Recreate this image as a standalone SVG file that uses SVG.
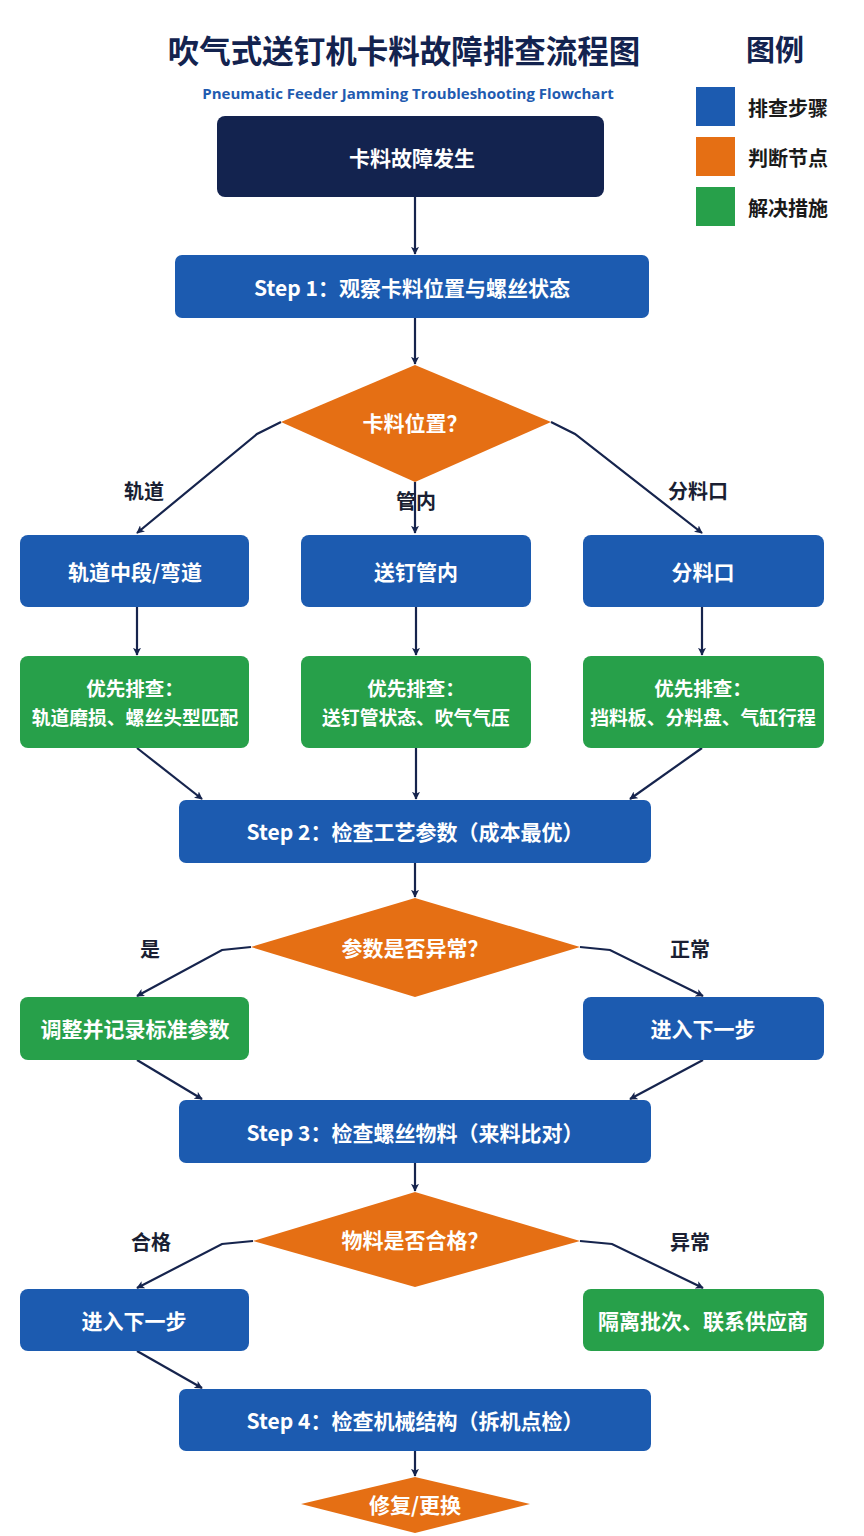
<svg xmlns="http://www.w3.org/2000/svg" width="864" height="1536" viewBox="0 0 864 1536">
<defs>
<marker id="arr" viewBox="0 0 10 10" refX="9" refY="5" markerWidth="8" markerHeight="8" orient="auto-start-reverse" markerUnits="userSpaceOnUse">
<path d="M0,0 L10,5 L0,10 L2.5,5 Z" fill="#16244d"/>
</marker>
<style>
text{font-family:"Noto Sans CJK SC","Noto Sans",sans-serif;font-weight:700;text-anchor:middle;dominant-baseline:central}
.t{fill:#ffffff;font-size:21px}
.blue{fill:#1c5bb0}
.org{fill:#e56f14}
.grn{fill:#27a04a}
.navy{fill:#13234f}
.lbl{fill:#1a1f33;font-size:20px}
.c{fill:none;stroke:#16244d;stroke-width:2.2;marker-end:url(#arr)}
</style>
</defs>
<rect width="864" height="1536" fill="#ffffff"/>
<g id="title">
<text x="404" y="49" style="font-size:31.5px;fill:#13234f">吹气式送钉机卡料故障排查流程图</text>
<text x="408" y="93" style="font-size:15px;fill:#1f5bb0;font-family:'Open Sans','Noto Sans',sans-serif">Pneumatic Feeder Jamming Troubleshooting Flowchart</text>
</g>
<g id="legend">
<text x="775" y="48" style="font-size:29px;fill:#13234f">图例</text>
<rect x="696" y="87" width="39" height="39" class="blue"/>
<rect x="696" y="137" width="39" height="39" class="org"/>
<rect x="696" y="187" width="39" height="39" class="grn"/>
<text x="748" y="107" style="font-size:20px;fill:#1a1a1a;text-anchor:start">排查步骤</text>
<text x="748" y="157" style="font-size:20px;fill:#1a1a1a;text-anchor:start">判断节点</text>
<text x="748" y="207" style="font-size:20px;fill:#1a1a1a;text-anchor:start">解决措施</text>
</g>
<g id="connectors">
<path class="c" d="M415,197 L415,254"/>
<path class="c" d="M415,318 L415,364"/>
<path class="c" d="M281,422 L257,434 L137,533"/>
<path class="c" d="M415,482 L415,533"/>
<path class="c" d="M551,422 L575,434 L702,533"/>
<path class="c" d="M137,607 L137,655"/>
<path class="c" d="M416,607 L416,655"/>
<path class="c" d="M702,607 L702,655"/>
<path class="c" d="M137,748 L202,799"/>
<path class="c" d="M416,748 L416,799"/>
<path class="c" d="M702,748 L630,799"/>
<path class="c" d="M415,863 L415,897"/>
<path class="c" d="M251,947 L222,950 L137,996"/>
<path class="c" d="M580,947 L610,950 L703,996"/>
<path class="c" d="M137,1060 L202,1099"/>
<path class="c" d="M703,1060 L630,1099"/>
<path class="c" d="M415,1163 L415,1191"/>
<path class="c" d="M253,1241 L222,1244 L137,1288"/>
<path class="c" d="M580,1241 L612,1244 L703,1288"/>
<path class="c" d="M137,1351 L202,1388"/>
<path class="c" d="M415,1451 L415,1476"/>
<text x="144" y="490" class="lbl">轨道</text>
<text x="416" y="500" class="lbl">管内</text>
<text x="698" y="490" class="lbl">分料口</text>
<text x="150" y="948" class="lbl">是</text>
<text x="690" y="948" class="lbl">正常</text>
<text x="151" y="1241" class="lbl">合格</text>
<text x="690" y="1241" class="lbl">异常</text>
</g>
<g id="start">
<rect x="217" y="116" width="387" height="81" rx="8" class="navy"/>
<text x="412" y="157" class="t">卡料故障发生</text>
</g>
<g id="step1">
<rect x="175" y="255" width="474" height="63" rx="7" class="blue"/>
<text x="412" y="287" class="t">Step 1：观察卡料位置与螺丝状态</text>
</g>
<g id="d1">
<polygon points="415,365 551,422 415,482 281,422" class="org"/>
<text x="415" y="422" class="t">卡料位置？</text>
</g>
<g id="b_track">
<rect x="20" y="535" width="229" height="72" rx="8" class="blue"/>
<text x="135" y="571" class="t">轨道中段/弯道</text>
</g>
<g id="b_tube">
<rect x="301" y="535" width="230" height="72" rx="8" class="blue"/>
<text x="416" y="571" class="t">送钉管内</text>
</g>
<g id="b_split">
<rect x="583" y="535" width="241" height="72" rx="8" class="blue"/>
<text x="703" y="571" class="t">分料口</text>
</g>
<g id="g_track">
<rect x="20" y="656" width="229" height="92" rx="8" class="grn"/>
<text x="135" y="687" class="t" style="font-size:19.5px">优先排查：</text>
<text x="135" y="716" class="t" style="font-size:18.8px">轨道磨损、螺丝头型匹配</text>
</g>
<g id="g_tube">
<rect x="301" y="656" width="230" height="92" rx="8" class="grn"/>
<text x="416" y="687" class="t" style="font-size:19.5px">优先排查：</text>
<text x="416" y="716" class="t" style="font-size:18.8px">送钉管状态、吹气气压</text>
</g>
<g id="g_split">
<rect x="583" y="656" width="241" height="92" rx="8" class="grn"/>
<text x="703" y="687" class="t" style="font-size:19.5px">优先排查：</text>
<text x="703" y="716" class="t" style="font-size:18.8px">挡料板、分料盘、气缸行程</text>
</g>
<g id="step2">
<rect x="179" y="800" width="472" height="63" rx="7" class="blue"/>
<text x="415" y="831" class="t">Step 2：检查工艺参数（成本最优）</text>
</g>
<g id="d2">
<polygon points="415,898 580,947 415,997 251,947" class="org"/>
<text x="415" y="947" class="t">参数是否异常？</text>
</g>
<g id="g_adjust">
<rect x="20" y="997" width="229" height="63" rx="8" class="grn"/>
<text x="135" y="1028" class="t">调整并记录标准参数</text>
</g>
<g id="b_next1">
<rect x="583" y="997" width="241" height="63" rx="8" class="blue"/>
<text x="703" y="1028" class="t">进入下一步</text>
</g>
<g id="step3">
<rect x="179" y="1100" width="472" height="63" rx="7" class="blue"/>
<text x="415" y="1132" class="t">Step 3：检查螺丝物料（来料比对）</text>
</g>
<g id="d3">
<polygon points="415,1192 580,1241 415,1287 253,1241" class="org"/>
<text x="415" y="1239" class="t">物料是否合格？</text>
</g>
<g id="b_next2">
<rect x="20" y="1289" width="229" height="62" rx="8" class="blue"/>
<text x="134" y="1320" class="t">进入下一步</text>
</g>
<g id="g_isolate">
<rect x="583" y="1289" width="241" height="62" rx="8" class="grn"/>
<text x="703" y="1320" class="t">隔离批次、联系供应商</text>
</g>
<g id="step4">
<rect x="179" y="1389" width="472" height="62" rx="7" class="blue"/>
<text x="415" y="1420" class="t">Step 4：检查机械结构（拆机点检）</text>
</g>
<g id="d4">
<polygon points="415,1477 530,1504 415,1533 301,1504" class="org"/>
<text x="415" y="1504" class="t">修复/更换</text>
</g>
</svg>
